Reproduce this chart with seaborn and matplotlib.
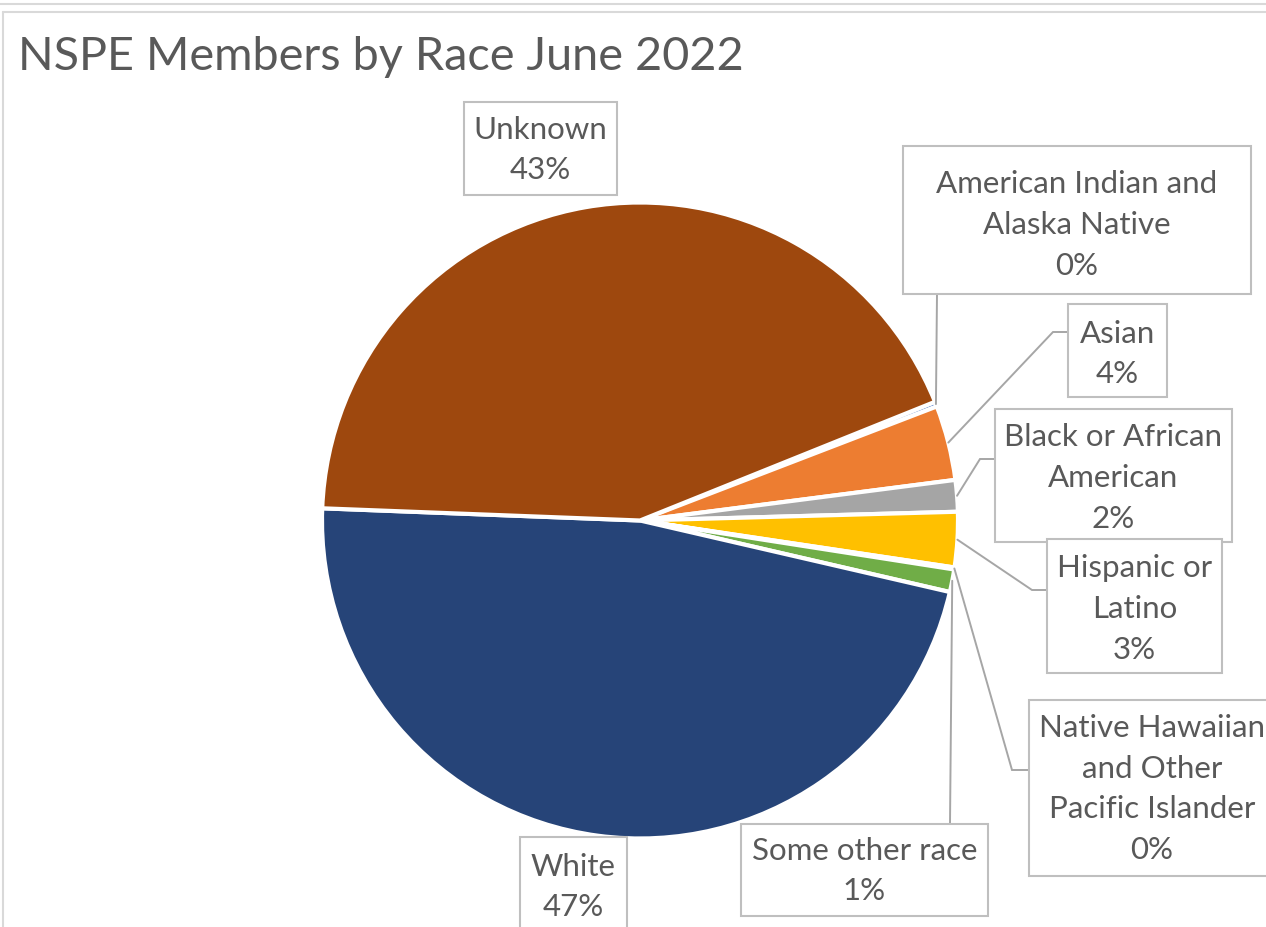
import matplotlib
matplotlib.use("Agg")
import matplotlib.pyplot as plt
from matplotlib.patches import Rectangle
from matplotlib.lines import Line2D
import numpy as np
import seaborn as sns

# ---------------- data ----------------
categories = [
    "American Indian and Alaska Native",
    "Asian",
    "Black or African American",
    "Hispanic or Latino",
    "Native Hawaiian and Other Pacific Islander",
    "Some other race",
    "White",
    "Unknown",
]
label_text = [
    "American Indian and\nAlaska Native",
    "Asian",
    "Black or African\nAmerican",
    "Hispanic or\nLatino",
    "Native Hawaiian\nand Other\nPacific Islander",
    "Some other race",
    "White",
    "Unknown",
]
shares = [0.25, 3.8, 1.6, 2.8, 0.1, 1.15, 47.0, 43.3]
colors = ["#4472C4", "#ED7D31", "#A5A5A5", "#FFC000",
          "#5B9BD5", "#70AD47", "#264478", "#9E480E"]
title = "NSPE Members by Race June 2022"

# ---------------- style ----------------
sns.set_theme(style="white")
plt.rcParams["font.family"] = ["Lato", "DejaVu Sans"]
palette = sns.color_palette(colors)

W, H = 1266, 928
TXT = "#595959"
BOX = "#BFBFBF"
LEAD = "#A6A6A6"

fig = plt.figure(figsize=(W / 100, H / 100), dpi=100)
ax = fig.add_axes([0, 0, 1, 1])

cx, cy, R = 640, H - 521.5, 318
wedges, _ = ax.pie(
    shares, colors=palette, startangle=21.92, counterclock=False,
    center=(cx, cy), radius=R,
    wedgeprops=dict(edgecolor="white", linewidth=3, antialiased=True),
)
ax.set_xlim(0, W)
ax.set_ylim(0, H)
ax.set_aspect("equal")
ax.axis("off")

total = sum(shares)
pcts = [f"{v / total * 100:.0f}%" for v in shares]

# label layout in pixel coordinates (y measured from top)
layout = [
    dict(box=(903, 147, 1251, 295), ty=225, path=[(937, 295)]),
    dict(box=(1068, 305, 1167, 398), ty=354, path=[(1053, 333), (1068, 333)]),
    dict(box=(995, 410, 1232, 543), ty=478, path=[(980, 460), (995, 460)]),
    dict(box=(1047, 540, 1222, 674), ty=609, path=[(1032, 591), (1047, 591)]),
    dict(box=(1029, 701, 1275, 877), ty=789, path=[(1012, 771), (1029, 771)]),
    dict(box=(741, 825, 988, 917), ty=871, path=[(950, 825)]),
    dict(box=(520, 838, 627, 940), ty=887, path=None),
    dict(box=(464, 103, 617, 196), ty=150, path=None),
]

for w, lab, pct, lay in zip(wedges, label_text, pcts, layout):
    x0, y0, x1, y1 = lay["box"]
    ax.add_patch(Rectangle((x0, H - y1), x1 - x0, y1 - y0, facecolor="white",
                           edgecolor=BOX, linewidth=1.5, zorder=4))
    ax.text((x0 + x1) / 2, H - lay["ty"], f"{lab}\n{pct}", ha="center",
            va="center", multialignment="center", fontsize=22.5,
            color=TXT, linespacing=1.56, zorder=5)
    if lay["path"]:
        mid = np.deg2rad((w.theta1 + w.theta2) / 2)
        xs = [cx + R * np.cos(mid)] + [p[0] for p in lay["path"]]
        ys = [cy + R * np.sin(mid)] + [H - p[1] for p in lay["path"]]
        ax.plot(xs, ys, color=LEAD, linewidth=1.4, zorder=3,
                solid_joinstyle="miter")

ax.text(18, H - 70, title, ha="left", va="baseline", fontsize=33.7,
        color=TXT)

# chart frame lines
fr = "#D9D9D9"
fig.add_artist(Line2D([0, 1], [1 - 5 / H] * 2, transform=fig.transFigure,
                      color=fr, linewidth=1.5))
fig.add_artist(Line2D([3 / W, 1], [1 - 13 / H] * 2, transform=fig.transFigure,
                      color=fr, linewidth=1.5))
fig.add_artist(Line2D([3 / W] * 2, [0, 1 - 13 / H], transform=fig.transFigure,
                      color=fr, linewidth=1.5))

fig.savefig("out.png", dpi=100, facecolor="white")
